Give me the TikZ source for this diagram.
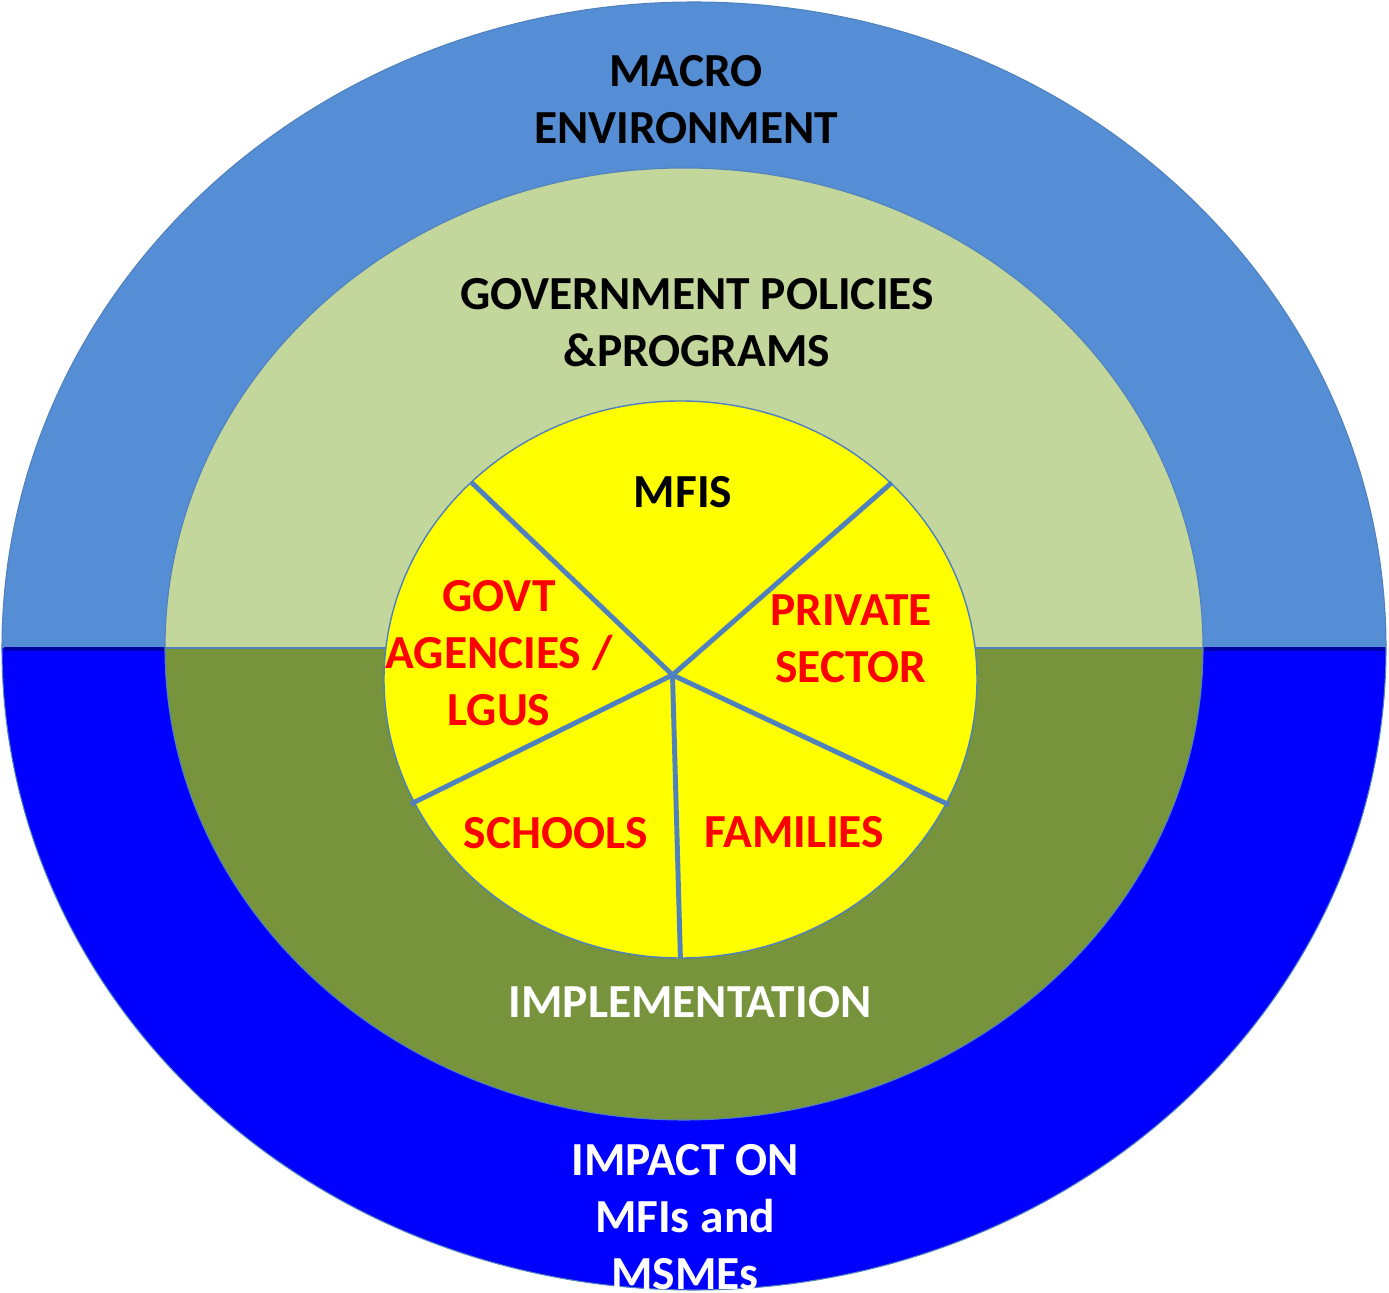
\documentclass[tikz,border=0pt]{standalone}
\usepackage{fontspec}
\setmainfont{Carlito}
\definecolor{macroblue}{RGB}{85,142,213}
\definecolor{impactblue}{RGB}{0,0,255}
\definecolor{policygreen}{RGB}{195,214,155}
\definecolor{implgreen}{RGB}{119,147,60}
\definecolor{edgeblue}{RGB}{79,129,189}
\definecolor{pieyellow}{RGB}{255,255,0}
\tikzset{
  label/.style={font=\bfseries\fontsize{27}{32.5}\selectfont, align=center, inner sep=0pt},
  spoke/.style={edgeblue, line width=2.8pt}
}
\begin{document}
\begin{tikzpicture}[x=0.02cm, y=0.02cm]
  \useasboundingbox (0,0) rectangle (1389,1292);
  \clip (0,0) rectangle (1389,1292);
  % Outer ring
  \fill[macroblue] (2,644) arc[start angle=180, end angle=0, x radius=692, y radius=646] -- cycle;
  \fill[impactblue] (2,644) arc[start angle=180, end angle=360, x radius=692, y radius=642] -- cycle;
  \draw[edgeblue, line width=0.6pt] (2,644) arc[start angle=180, end angle=0, x radius=692, y radius=646];
  \draw[edgeblue, line width=0.6pt] (2,644) arc[start angle=180, end angle=360, x radius=692, y radius=642];
  \draw[impactblue!65!black, line width=2pt] (4,643) -- (1385,643);
  % Middle ring
  \fill[policygreen] (165,644) arc[start angle=180, end angle=0, x radius=519, y radius=480] -- cycle;
  \fill[implgreen] (165,644) arc[start angle=180, end angle=360, x radius=519, y radius=472] -- cycle;
  \draw[edgeblue, line width=0.6pt] (165,644) arc[start angle=180, end angle=0, x radius=519, y radius=480];
  \draw[edgeblue, line width=0.6pt] (165,644) arc[start angle=180, end angle=360, x radius=519, y radius=472];
  \draw[edgeblue, line width=1.2pt] (165,644) -- (1203,644);
  % Pie
  \filldraw[fill=pieyellow, draw=edgeblue, line width=0.8pt] (680.5,612.5) ellipse[x radius=296.5, y radius=278.5];
  \coordinate (hub) at (672.5,617);
  \coordinate (tl) at (471.7,809.4);
  \coordinate (tr) at (891.8,809.4);
  \coordinate (br) at (949,487.2);
  \coordinate (bm) at (680.4,334.1);
  \coordinate (bl) at (410.8,488);
  \foreach \p in {tl,tr,br,bm,bl} {
    \draw[spoke] (hub) -- (\p);
  }
  % Labels
  \node[label] (macro) at (686,1192) {MACRO\\ENVIRONMENT};
  \node[label] (govpol) at (697,969) {GOVERNMENT POLICIES\\\&PROGRAMS};
  \node[label] (mfis) at (683,800) {MFIS};
  \node[label, red] (govt) at (499,639) {GOVT\\AGENCIES /\\LGUS};
  \node[label, red] (private) at (851,653) {PRIVATE\\SECTOR};
  \node[label, red] (schools) at (556,459) {SCHOOLS};
  \node[label, red] (families) at (794,460) {FAMILIES};
  \node[label, white] (impl) at (690,290) {IMPLEMENTATION};
  \node[label, white] (impact) at (685,75) {IMPACT ON\\MFIs and\\MSMEs};
\end{tikzpicture}
\end{document}
